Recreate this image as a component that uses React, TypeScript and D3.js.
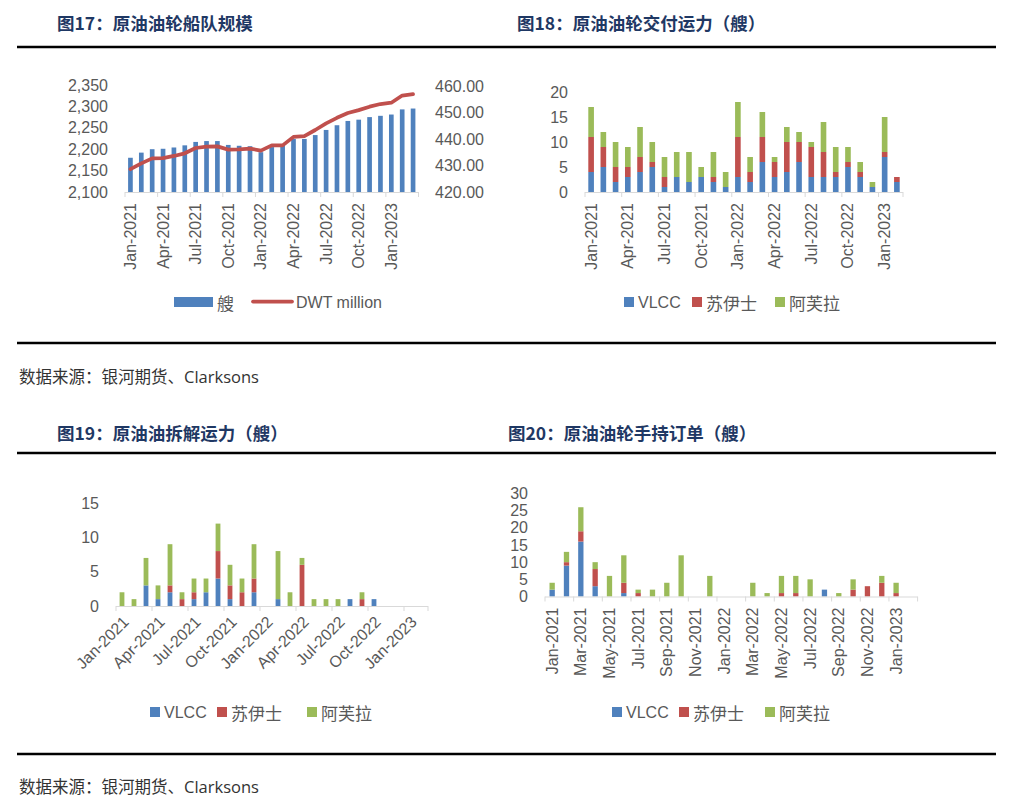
import React from 'react';
import * as d3 from 'd3';

// ---------- data ----------
const months27 = ['Jan-2021','Feb-2021','Mar-2021','Apr-2021','May-2021','Jun-2021','Jul-2021','Aug-2021','Sep-2021','Oct-2021','Nov-2021','Dec-2021','Jan-2022','Feb-2022','Mar-2022','Apr-2022','May-2022','Jun-2022','Jul-2022','Aug-2022','Sep-2022','Oct-2022','Nov-2022','Dec-2022','Jan-2023','Feb-2023','Mar-2023'];
const months26 = months27.slice(0, 26);

// 图17
const fleetShips = [2180, 2192, 2200, 2201, 2204, 2209, 2217, 2219, 2219, 2210, 2208, 2207, 2193, 2205, 2208, 2224, 2224, 2233, 2245, 2256, 2266, 2269, 2275, 2278, 2281, 2293, 2295];
const fleetDwt = [428.6, 430.8, 432.7, 432.8, 433.6, 434.6, 436.6, 437.1, 437.2, 436.0, 436.1, 436.4, 435.6, 437.6, 437.6, 440.8, 441.1, 443.4, 445.9, 448.0, 449.8, 450.9, 452.2, 453.2, 453.7, 456.4, 456.9];
const leftTicks17 = [2100, 2150, 2200, 2250, 2300, 2350];
const rightTicks17 = [420, 430, 440, 450, 460];

// 图18 交付
const vlcc18 = [4,5,2,3,4,5,1,3,2,3,2,1,3,2,6,3,4,6,3,3,3,5,3,1,7,2];
const suez18 = [7,4,3,2,3,1,2,0,0,0,1,0,8,2,5,3,6,4,6,5,1,1,1,0,1,1];
const afra18 = [6,3,5,4,6,4,4,5,6,2,5,3,7,3,5,1,3,2,1,6,5,3,2,1,7,0];
const ticks18 = [0, 5, 10, 15, 20];

// 图19 拆解
const vlcc19 = [0,0,3,1,2,0,1,2,4,1,0,2,0,1,0,0,0,0,0,1,0,1,0,0,0,0];
const suez19 = [0,0,0,0,1,1,1,0,4,2,2,2,0,0,0,6,0,0,0,0,1,0,0,0,0,0];
const afra19 = [2,1,4,2,6,1,2,2,4,3,2,5,0,7,2,1,1,1,1,0,1,0,0,0,0,0];
const ticks19 = [0, 5, 10, 15];

// 图20 手持订单
const vlcc20 = [2,9,16,3,0,1,0,0,0,0,0,0,0,0,0,0,0,0,0,2,0,0,0,0,0,0];
const suez20 = [0,1,3,5,0,3,1,0,0,0,0,0,0,0,0,0,1,1,0,0,0,2,3,4,1,0];
const afra20 = [2,3,7,2,6,8,1,2,4,12,0,6,0,0,4,1,5,5,5,0,1,3,0,2,3,0];
const ticks20 = [0, 5, 10, 15, 20, 25, 30];

const seriesNames = ['VLCC', '苏伊士', '阿芙拉'];

// ---------- style ----------
const BLUE = '#4F81BD';
const RED = '#C0504D';
const GREEN = '#9BBB59';
const AXIS = '#D9D9D9';
const TXT = '#595959';
const TITLE = '#1F3864';
const FONT = '"Liberation Sans", "Noto Sans CJK SC", sans-serif';
const CJK = '"Noto Sans CJK SC", sans-serif';
const colors = [BLUE, RED, GREEN];

type StackProps = {
  cats: string[];
  series: number[][];
  x0: number; x1: number;
  yBottom: number; yTop: number;
  yMax: number;
  yTicks: number[];
  labelEvery: number;
  barFrac: number;
  rotate: number;
};

function XAxis({ x, cats, yBottom, labelEvery, rotate }: { x: d3.ScaleBand<string>; cats: string[]; yBottom: number; labelEvery: number; rotate: number }) {
  const step = x.step();
  const [r0, r1] = x.range();
  const tickXs: number[] = [];
  for (let i = 0; i <= cats.length; i += labelEvery) tickXs.push(r0 + i * step);
  if (tickXs[tickXs.length - 1] < r1 - 0.5) tickXs.push(r1);
  return (
    <g>
      <line x1={r0} x2={r1} y1={yBottom + 0.5} y2={yBottom + 0.5} stroke={AXIS} strokeWidth={1} />
      {tickXs.map((tx, i) => (
        <line key={i} x1={tx} x2={tx} y1={yBottom} y2={yBottom + 5} stroke={AXIS} strokeWidth={1} />
      ))}
      {cats.map((c, i) => {
        if (i % labelEvery !== 0) return null;
        const cx = (x(c) as number) + x.bandwidth() / 2;
        if (rotate === -90) {
          return (
            <text key={c} transform={`translate(${cx},${yBottom + 11}) rotate(-90)`} textAnchor="end" dominantBaseline="central" fontSize={16} fill={TXT} fontFamily={FONT}>{c}</text>
          );
        }
        return (
          <text key={c} transform={`translate(${cx + 4},${yBottom + 13}) rotate(-45)`} textAnchor="end" dominantBaseline="central" fontSize={16} fill={TXT} fontFamily={FONT}>{c}</text>
        );
      })}
    </g>
  );
}

function StackChart(p: StackProps) {
  const x = d3.scaleBand<string>().domain(p.cats).range([p.x0, p.x1]).paddingInner(1 - p.barFrac).paddingOuter((1 - p.barFrac) / 2);
  const y = d3.scaleLinear().domain([0, p.yMax]).range([p.yBottom, p.yTop]);
  const rows = p.cats.map((c, i) => ({ cat: c, s0: p.series[0][i], s1: p.series[1][i], s2: p.series[2][i] }));
  const stack = d3.stack<any>().keys(['s0', 's1', 's2'])(rows);
  return (
    <g>
      {p.yTicks.map((t) => (
        <text key={t} x={p.x0 - 17} y={y(t)} textAnchor="end" dominantBaseline="central" fontSize={16} fill={TXT} fontFamily={FONT}>{t}</text>
      ))}
      {stack.map((layer, li) => (
        <g key={li} fill={colors[li]}>
          {layer.map((d, i) => {
            const h = y(d[0]) - y(d[1]);
            if (h <= 0) return null;
            return <rect key={i} x={x(p.cats[i])} y={y(d[1])} width={x.bandwidth()} height={h} />;
          })}
        </g>
      ))}
      <XAxis x={x} cats={p.cats} yBottom={p.yBottom} labelEvery={p.labelEvery} rotate={p.rotate} />
    </g>
  );
}

function Legend3({ xs, y }: { xs: number[]; y: number }) {
  return (
    <g>
      {seriesNames.map((n, i) => (
        <g key={n}>
          <rect x={xs[i]} y={y - 5} width={10} height={10} fill={colors[i]} />
          <text x={xs[i] + 14} y={y} dominantBaseline="central" fontSize={i === 0 ? 16 : 17} fill={TXT} fontFamily={i === 0 ? FONT : CJK}>{n}</text>
        </g>
      ))}
    </g>
  );
}

function Chart17() {
  const x0 = 125, x1 = 418.5, yB = 192, yT = 85;
  const x = d3.scaleBand<string>().domain(months27).range([x0, x1]).paddingInner(0.57).paddingOuter(0.285);
  const yL = d3.scaleLinear().domain([2100, 2350]).range([yB, yT]);
  const yR = d3.scaleLinear().domain([420, 460]).range([yB, yT + 1]);
  const fmtL = d3.format(',');
  const fmtR = d3.format('.2f');
  const line = d3.line<number>()
    .x((_, i) => (x(months27[i]) as number) + x.bandwidth() / 2)
    .y((d) => yR(d))
    .curve(d3.curveLinear);
  return (
    <g>
      {leftTicks17.map((t) => (
        <text key={t} x={x0 - 17} y={yL(t)} textAnchor="end" dominantBaseline="central" fontSize={16} fill={TXT} fontFamily={FONT}>{fmtL(t)}</text>
      ))}
      {rightTicks17.map((t) => (
        <text key={t} x={435} y={yR(t)} textAnchor="start" dominantBaseline="central" fontSize={16} fill={TXT} fontFamily={FONT}>{fmtR(t)}</text>
      ))}
      {fleetShips.map((v, i) => (
        <rect key={i} x={x(months27[i])} y={yL(v)} width={x.bandwidth()} height={yB - yL(v)} fill={BLUE} />
      ))}
      <XAxis x={x} cats={months27} yBottom={yB} labelEvery={3} rotate={-90} />
      <path d={line(fleetDwt) || ''} fill="none" stroke={RED} strokeWidth={3.75} strokeLinejoin="round" strokeLinecap="round" />
      {/* legend */}
      <rect x={174} y={297} width={39} height={10} fill={BLUE} />
      <text x={217} y={302} dominantBaseline="central" fontSize={17} fill={TXT} fontFamily={CJK}>艘</text>
      <line x1={253} x2={292} y1={301.5} y2={301.5} stroke={RED} strokeWidth={3.75} strokeLinecap="round" />
      <text x={296} y={302} dominantBaseline="central" fontSize={16} fill={TXT} fontFamily={FONT}>DWT million</text>
    </g>
  );
}

function Title({ x, y, text }: { x: number; y: number; text: string }) {
  return <text x={x} y={y} fontSize={17.5} fontWeight={700} fill={TITLE} fontFamily={CJK} dominantBaseline="central">{text}</text>;
}

function Source({ y }: { y: number }) {
  return <text x={19} y={y} fontSize={16.5} fill="#333333" fontFamily={CJK} dominantBaseline="central">数据来源：银河期货、<tspan fontFamily={'"Open Sans", "Liberation Sans", sans-serif'}>Clarksons</tspan></text>;
}

export default function App() {
  return (
    <svg width={1019} height={806} viewBox="0 0 1019 806" style={{ position: 'absolute', left: 0, top: 0, background: '#fff' }}>
      <rect x={0} y={0} width={1019} height={806} fill="#fff" />
      <Title x={57} y={22} text="图17：原油油轮船队规模" />
      <Title x={517} y={22} text="图18：原油油轮交付运力（艘）" />
      <line x1={17} x2={996} y1={47} y2={47} stroke="#000" strokeWidth={2.5} />
      <Chart17 />
      <StackChart cats={months26} series={[vlcc18, suez18, afra18]} x0={585} x1={903} yBottom={192} yTop={92} yMax={20} yTicks={ticks18} labelEvery={3} barFrac={0.46} rotate={-90} />
      <Legend3 xs={[624, 692, 775]} y={302} />
      <line x1={17} x2={996} y1={343} y2={343} stroke="#000" strokeWidth={2.5} />
      <Source y={376} />

      <Title x={57} y={432} text="图19：原油油拆解运力（艘）" />
      <Title x={508} y={432} text="图20：原油油轮手持订单（艘）" />
      <line x1={17} x2={996} y1={453} y2={453} stroke="#000" strokeWidth={2.5} />
      <StackChart cats={months26} series={[vlcc19, suez19, afra19]} x0={116} x1={428} yBottom={606} yTop={503} yMax={15} yTicks={ticks19} labelEvery={3} barFrac={0.4} rotate={-45} />
      <Legend3 xs={[150, 217, 307]} y={712} />
      <StackChart cats={months26} series={[vlcc20, suez20, afra20]} x0={545} x1={917.6} yBottom={596.5} yTop={493.5} yMax={30} yTicks={ticks20} labelEvery={2} barFrac={0.37} rotate={-90} />
      <Legend3 xs={[612, 679, 765]} y={712} />
      <line x1={17} x2={996} y1={754} y2={754} stroke="#000" strokeWidth={2.5} />
      <Source y={786} />
    </svg>
  );
}
